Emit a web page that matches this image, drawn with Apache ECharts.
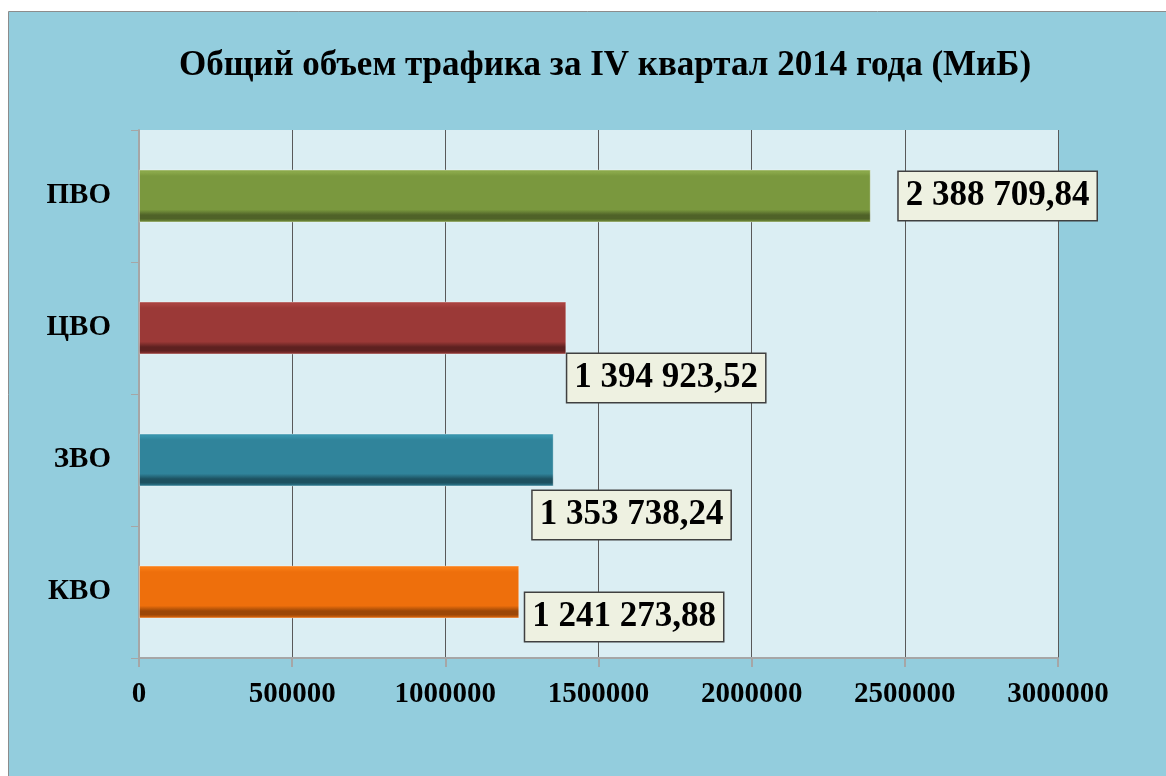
<!DOCTYPE html>
<html>
<head>
<meta charset="utf-8">
<script src="https://cdn.jsdelivr.net/npm/echarts@6/dist/echarts.min.js"></script>
<style>
html,body{margin:0;padding:0;background:#ffffff;}
#chart{width:1166px;height:776px;}
</style>
</head>
<body>
<div id="chart"></div>
<script>
const titleText = 'Общий объем трафика за IV квартал 2014 года (МиБ)';
const categories = ['ПВО', 'ЦВО', 'ЗВО', 'КВО'];
const values = [2388709.84, 1394923.52, 1353738.24, 1241273.88];
const valueLabels = ['2 388 709,84', '1 394 923,52', '1 353 738,24', '1 241 273,88'];
const xTicks = [0, 500000, 1000000, 1500000, 2000000, 2500000, 3000000];

const barColors = [
  ['#8AA84A', '#7A983E', '#4F6228'],
  ['#A84240', '#9B3937', '#5E2120'],
  ['#3894AC', '#30849B', '#1D5160'],
  ['#F87C14', '#EE6F0C', '#9C4707']
];
const labelOffsets = [[28, 0], [1, 50], [-21, 55], [6, 25]];

const font = '"Liberation Serif", "Times New Roman", serif';

const chart = echarts.init(document.getElementById('chart'), null, {renderer: 'canvas'});

const data = values.map((v, i) => ({
  value: v,
  itemStyle: {
    color: new echarts.graphic.LinearGradient(0, 0, 0, 1, [
      {offset: 0, color: barColors[i][0]},
      {offset: 0.05, color: barColors[i][0]},
      {offset: 0.12, color: barColors[i][1]},
      {offset: 0.76, color: barColors[i][1]},
      {offset: 0.86, color: barColors[i][2]},
      {offset: 0.93, color: barColors[i][2]},
      {offset: 1, color: barColors[i][1]}
    ]),
    borderColor: 'rgba(255,255,255,0.35)',
    borderWidth: 1
  },
  label: {
    offset: labelOffsets[i]
  }
}));

chart.setOption({
  animation: false,
  backgroundColor: '#ffffff',
  graphic: [{
    type: 'rect',
    z: -10,
    silent: true,
    shape: {x: 8.5, y: 11.5, width: 1170, height: 780},
    style: {fill: '#93CDDD', stroke: '#8C8C8C', lineWidth: 1}
  }],
  title: {
    text: titleText,
    left: 600,
    top: 43,
    textAlign: 'center',
    textStyle: {fontFamily: font, fontWeight: 'bold', fontSize: 35, color: '#000'}
  },
  grid: {
    left: 139, right: 108, top: 130, bottom: 118,
    show: true,
    backgroundColor: '#DBEEF3',
    borderWidth: 0
  },
  xAxis: {
    type: 'value',
    min: xTicks[0],
    max: xTicks[xTicks.length - 1],
    interval: xTicks[1] - xTicks[0],
    axisLine: {show: true, lineStyle: {color: '#A6A6A6', width: 2}},
    axisTick: {show: true, length: 9, lineStyle: {color: '#A6A6A6', width: 2}},
    axisLabel: {
      margin: 22,
      fontFamily: font, fontWeight: 'bold', fontSize: 29, color: '#000',
      formatter: v => String(v)
    },
    splitLine: {show: true, showMinLine: false, lineStyle: {color: '#595959', width: 1}}
  },
  yAxis: {
    type: 'category',
    data: categories,
    inverse: true,
    axisLine: {show: true, lineStyle: {color: '#A6A6A6', width: 2}},
    axisTick: {show: true, length: 8, lineStyle: {color: '#A6A6A6', width: 1}},
    axisLabel: {
      margin: 28,
      fontFamily: font, fontWeight: 'bold', fontSize: 29, color: '#000'
    },
    splitLine: {show: false}
  },
  series: [{
    type: 'bar',
    data: data,
    barWidth: '40%',
    label: {
      show: true,
      position: 'right',
      distance: 0,
      formatter: p => valueLabels[p.dataIndex],
      fontFamily: font, fontWeight: 'bold', fontSize: 35, color: '#000',
      backgroundColor: '#EEF1E1',
      borderColor: '#404040',
      borderWidth: 1.5,
      padding: [3, 7, 3, 7],
      lineHeight: 42
    }
  }]
});
</script>
</body>
</html>
